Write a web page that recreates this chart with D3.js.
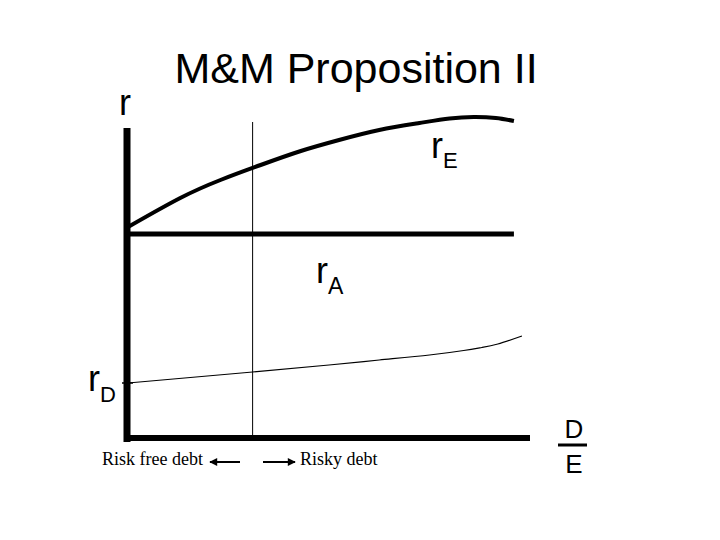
<!DOCTYPE html>
<html lang="en">
<head>
    <meta charset="utf-8">
    <title>M&amp;M Proposition II</title>
    <script src="https://cdn.jsdelivr.net/npm/d3@7/dist/d3.min.js"></script>
    <style>
        body { margin: 0; background: #fff; }
        .sans { font-family: Arial, "Liberation Sans", sans-serif; fill: #000; }
        .serif { font-family: "Times New Roman", "Liberation Serif", serif; fill: #000; }
    </style>
</head>
<body>
    <div id="chart"></div>
    <script type="text/javascript">
        // debt/equity ratio positions and required returns (%)
        const rEx = [0, 0.26, 0.46, 0.66, 0.86, 1.05, 1.25, 1.45, 1.60, 1.72, 1.83, 1.92];
        const rEy = [21.1, 24.0, 25.8, 27.3, 28.7, 29.8, 30.8, 31.5, 31.95, 32.1, 32.0, 31.7];

        const rAx = [0, 1.92];
        const rAy = [20.4, 20.4];

        const rDx = [0, 0.62, 1.0, 1.25, 1.5, 1.67, 1.76, 1.84, 1.96];
        const rDy = [5.5, 6.6, 7.3, 7.8, 8.3, 8.75, 9.05, 9.4, 10.2];

        const riskyFrom = 0.62;   // where debt stops being risk free
        const xMax = 2.0;
        const yMax = 31;

        const width = 720;
        const height = 540;

        const x = d3.scaleLinear().domain([0, 2]).range([128, 530]);
        const y = d3.scaleLinear().domain([0, 32]).range([438, 118]);

        const svg = d3.select("#chart")
            .append("svg")
            .attr("width", width)
            .attr("height", height);

        const line = d3.line()
            .x(d => x(d[0]))
            .y(d => y(d[1]))
            .curve(d3.curveNatural);

        // thin vertical divider
        svg.append("line")
            .attr("x1", x(riskyFrom)).attr("x2", x(riskyFrom))
            .attr("y1", y(31.6)).attr("y2", y(0))
            .attr("stroke", "#000").attr("stroke-width", 1);

        // axes
        svg.append("line")
            .attr("x1", x(0) - 1).attr("x2", x(0) - 1)
            .attr("y1", y(yMax)).attr("y2", y(0) + 4)
            .attr("stroke", "#000").attr("stroke-width", 7);
        svg.append("line")
            .attr("x1", x(0) - 4).attr("x2", x(xMax))
            .attr("y1", y(0)).attr("y2", y(0))
            .attr("stroke", "#000").attr("stroke-width", 6);

        // curves
        svg.append("path")
            .datum(d3.zip(rEx, rEy))
            .attr("d", line)
            .attr("fill", "none").attr("stroke", "#000").attr("stroke-width", 4);
        svg.append("path")
            .datum(d3.zip(rAx, rAy))
            .attr("d", line)
            .attr("fill", "none").attr("stroke", "#000").attr("stroke-width", 5);
        svg.append("path")
            .datum(d3.zip(rDx, rDy))
            .attr("d", line)
            .attr("fill", "none").attr("stroke", "#000").attr("stroke-width", 1.2);

        // small tick where r_D meets the axis
        svg.append("line")
            .attr("x1", x(0) - 6).attr("x2", x(0) + 5)
            .attr("y1", y(rDy[0])).attr("y2", y(rDy[0]))
            .attr("stroke", "#000").attr("stroke-width", 1.5);

        // title
        svg.append("text")
            .attr("class", "sans")
            .attr("x", 356).attr("y", 83)
            .attr("text-anchor", "middle")
            .attr("font-size", 43)
            .text("M&M Proposition II");

        svg.append("text")
            .attr("class", "sans")
            .attr("x", 119).attr("y", 115)
            .attr("font-size", 36)
            .text("r");

        // r with subscript
        function rLabel(px, py, sub, subSize, subDy) {
            const t = svg.append("text")
                .attr("class", "sans")
                .attr("x", px).attr("y", py)
                .attr("font-size", 36);
            t.append("tspan").text("r");
            t.append("tspan")
                .attr("font-size", subSize)
                .attr("dy", subDy)
                .text(sub);
        }
        rLabel(431, 158, "E", 22, 10);
        rLabel(316, 283, "A", 23, 11);
        rLabel(88, 391, "D", 22, 11);

        // D / E
        svg.append("text")
            .attr("class", "sans")
            .attr("x", 574).attr("y", 438)
            .attr("text-anchor", "middle")
            .attr("font-size", 26)
            .text("D");
        svg.append("line")
            .attr("x1", 558).attr("x2", 587)
            .attr("y1", 445).attr("y2", 445)
            .attr("stroke", "#000").attr("stroke-width", 3);
        svg.append("text")
            .attr("class", "sans")
            .attr("x", 574).attr("y", 473)
            .attr("text-anchor", "middle")
            .attr("font-size", 26)
            .text("E");

        // debt regime notes with arrows
        svg.append("defs").append("marker")
            .attr("id", "head")
            .attr("viewBox", "0 0 10 10")
            .attr("refX", 9).attr("refY", 5)
            .attr("markerWidth", 4.5).attr("markerHeight", 4)
            .attr("orient", "auto")
            .append("path")
            .attr("d", "M0,0L10,5L0,10z")
            .attr("fill", "#000");

        svg.append("text")
            .attr("class", "serif")
            .attr("x", 102).attr("y", 465)
            .attr("font-size", 18)
            .text("Risk free debt");
        svg.append("line")
            .attr("x1", 240).attr("x2", 210)
            .attr("y1", 462).attr("y2", 462)
            .attr("stroke", "#000").attr("stroke-width", 2)
            .attr("marker-end", "url(#head)");

        svg.append("line")
            .attr("x1", 263).attr("x2", 295)
            .attr("y1", 462).attr("y2", 462)
            .attr("stroke", "#000").attr("stroke-width", 2)
            .attr("marker-end", "url(#head)");
        svg.append("text")
            .attr("class", "serif")
            .attr("x", 300).attr("y", 465)
            .attr("font-size", 18)
            .text("Risky debt");
    </script>
</body>
</html>
